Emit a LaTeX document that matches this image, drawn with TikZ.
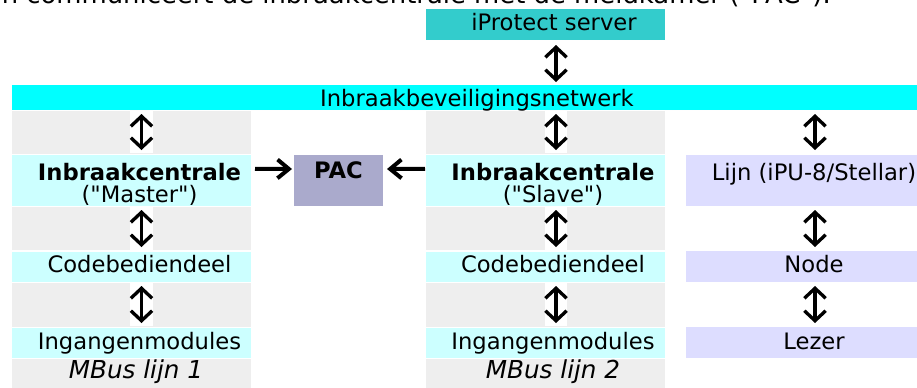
\documentclass[tikz,border=0pt]{standalone}
\usepackage{fontspec}
\newfontfamily\dv{DejaVu Sans}
\usetikzlibrary{arrows.meta,calc}
\definecolor{tealbox}{HTML}{33CCCC}
\definecolor{netc}{HTML}{00FFFF}
\definecolor{lcyan}{HTML}{CCFFFF}
\definecolor{lgray}{HTML}{EEEEEE}
\definecolor{pacc}{HTML}{AAAACC}
\definecolor{lav}{HTML}{DDDDFF}
% name, x1, y1, x2, y2, colour  (coordinates in px)
\newcommand\cellbox[6]{\node[cellsty, fill=#6, minimum width={(#4-#2)*0.75pt}, minimum height={(#5-#3)*0.75pt}] (#1) at ({(#2+#4)/2},{(#3+#5)/2}) {};}
\begin{document}
\begin{tikzpicture}[x=0.75pt, y=-0.75pt,
  cellsty/.style={draw=none, inner sep=0pt, outer sep=0pt, rectangle},
  txt/.style={anchor=base, inner sep=0pt, outer sep=0pt, font=\dv\fontsize{17}{20}\selectfont},
  vbidir/.style={line width=2.5pt, {Straight Barb[length=7.5pt,width=16pt]}-{Straight Barb[length=7.5pt,width=16pt]}},
  harrow/.style={line width=3pt, -{Straight Barb[length=8.5pt,width=14pt]}}]
\useasboundingbox (0,0) rectangle (917,387);
\clip (0,0) rectangle (917,387);

% intro text (cut off at top)
\node[anchor=base east, inner sep=0pt, font=\dv\fontsize{19.4}{22}\selectfont] (intro) at (831,3) {n communiceert de inbraakcentrale met de meldkamer ("PAC").};

% server and network
\cellbox{srv}{426}{9}{665}{40}{tealbox}
\cellbox{net}{12}{85}{942}{110}{netc}

% column 1
\cellbox{aB}{12}{111}{251}{153.5}{lgray}
\cellbox{aC}{12}{155}{251}{205.5}{lcyan}
\cellbox{aD}{12}{207}{251}{250}{lgray}
\cellbox{aE}{12}{251.5}{251}{281.5}{lcyan}
\cellbox{aF}{12}{283}{251}{326.5}{lgray}
\cellbox{aG}{12}{328}{251}{357.5}{lcyan}
\cellbox{aH}{12}{359}{251}{395}{lgray}
% PAC
\cellbox{pac}{294}{155}{383}{206}{pacc}
% column 2
\cellbox{bB}{426}{111}{665}{153.5}{lgray}
\cellbox{bC}{426}{155}{665}{205.5}{lcyan}
\cellbox{bD}{426}{207}{665}{250}{lgray}
\cellbox{bE}{426}{251.5}{665}{281.5}{lcyan}
\cellbox{bF}{426}{283}{665}{326.5}{lgray}
\cellbox{bG}{426}{328}{665}{357.5}{lcyan}
\cellbox{bH}{426}{359}{665}{395}{lgray}
% column 3
\cellbox{cC}{686}{155}{942}{206}{lav}
\cellbox{cE}{686}{251}{942}{282}{lav}
\cellbox{cG}{686}{327}{942}{357.5}{lav}

% white glyph backgrounds of the vertical arrows
\cellbox{w0}{545}{43}{567}{83}{white}
\cellbox{wa1}{130}{111}{153}{153}{white}
\cellbox{wa2}{130}{207}{153}{250}{white}
\cellbox{wa3}{130}{283}{153}{326}{white}
\cellbox{wb1}{545}{111}{567}{153}{white}
\cellbox{wb2}{545}{207}{567}{250}{white}
\cellbox{wb3}{545}{283}{567}{326}{white}
\cellbox{wc1}{804}{111}{826}{153}{white}
\cellbox{wc2}{804}{207}{826}{250}{white}
\cellbox{wc3}{804}{283}{826}{326}{white}

% vertical double arrows
\foreach \w in {wa1,wa2,wa3,wb1,wb2,wb3,wc1,wc2,wc3}
  \draw[vbidir] ($(\w.north)+(0,3)$) -- ($(\w.south)+(0,-3)$);
\draw[vbidir] ($(w0.north)+(0,2)$) -- ($(w0.south)+(0,-1)$);

% horizontal arrows to PAC
\draw[harrow] ($(aC.east)+(4,-11.5)$) -- ($(pac.west)+(-2,-11.5)$);
\draw[harrow] ($(bC.west)+(-1,-11.5)$) -- ($(pac.east)+(4,-11.5)$);

% texts
\node[txt] (tsrv) at (554,30) {iProtect server};
\node[txt] (tnet) at (477,106) {Inbraakbeveiligingsnetwerk};
\node[txt] (ta1) at (139.5,180) {\bfseries Inbraakcentrale};
\node[txt] (ta2) at (139.5,202) {("Master")};
\node[txt] (tpac) at (338.5,178) {\bfseries PAC};
\node[txt] (tb1) at (553,180) {\bfseries Inbraakcentrale};
\node[txt] (tb2) at (553,202) {("Slave")};
\node[txt] (tc1) at (814,180) {Lijn (iPU-8/Stellar)};
\node[txt] (ta3) at (139.5,272) {Codebediendeel};
\node[txt] (tb3) at (553,272) {Codebediendeel};
\node[txt] (tc3) at (814,272) {Node};
\node[txt] (ta4) at (139.5,349) {Ingangenmodules};
\node[txt] (tb4) at (553,349) {Ingangenmodules};
\node[txt] (tc4) at (814,349) {Lezer};
\node[txt, font=\dv\fontsize{18.5}{21}\selectfont\itshape] (ta5) at (136,378) {MBus lijn 1};
\node[txt, font=\dv\fontsize{18.5}{21}\selectfont\itshape] (tb5) at (553,378) {MBus lijn 2};
\end{tikzpicture}
\end{document}
